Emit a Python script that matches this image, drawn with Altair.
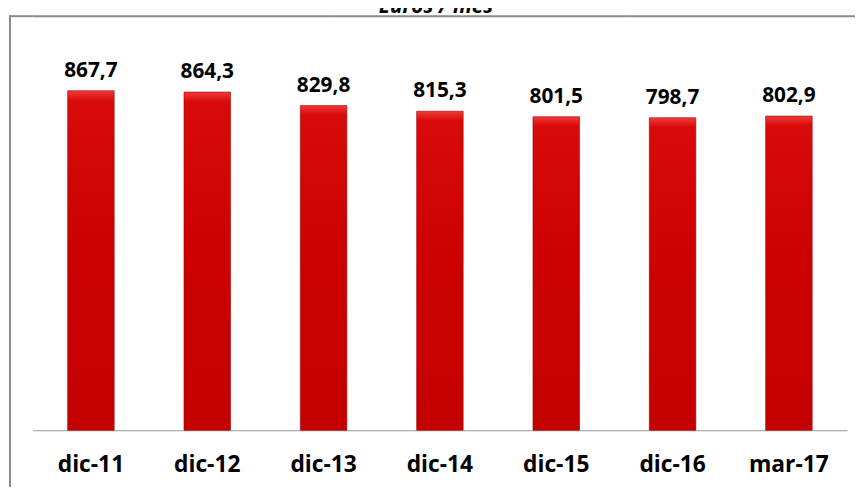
import altair as alt
import pandas as pd

categories = ["dic-11", "dic-12", "dic-13", "dic-14", "dic-15", "dic-16", "mar-17"]
values = [867.7, 864.3, 829.8, 815.3, 801.5, 798.7, 802.9]
title_text = "Euros / mes"

labels = [f"{v:.1f}".replace(".", ",") for v in values]
df = pd.DataFrame({"cat": categories, "val": values, "lab": labels})

FONT = "Open Sans"

x_enc = alt.X("cat:N", sort=categories,
              scale=alt.Scale(paddingInner=0.6, paddingOuter=0.3),
              axis=alt.Axis(title=None, labelAngle=0, ticks=False,
                            labelFontSize=23, labelFontWeight="bold",
                            labelFont=FONT, labelColor="#000000",
                            labelPadding=24, domainColor="#9a9a9a",
                            domainWidth=1.2))
y_enc = alt.Y("val:Q", scale=alt.Scale(domain=[0, 1000], nice=False), axis=None)

gradient = alt.Gradient(
    gradient="linear", x1=0, y1=0, x2=0, y2=1,
    stops=[alt.GradientStop(color="#f03a3a", offset=0),
           alt.GradientStop(color="#d80a0a", offset=0.03),
           alt.GradientStop(color="#cc0000", offset=0.5),
           alt.GradientStop(color="#c40000", offset=1)])

base = alt.Chart(df)

bars = base.mark_bar(fill=gradient, stroke="#a00000", strokeWidth=0.6).encode(
    x=x_enc, y=y_enc)

texts = base.mark_text(font=FONT, fontSize=21, fontWeight="bold",
                       color="#000000", dy=-14, baseline="alphabetic").encode(
    x=alt.X("cat:N", sort=categories), y=alt.Y("val:Q"), text="lab:N")

one = alt.Data(values=[{"k": 1}])

GRAY = "#8a8a8a"
segments = []
for a, b in [(-24, 0), (0, 300), (300, 600), (600, 830)]:
    segments.append(alt.Chart(one).mark_rect(color=GRAY).encode(
        x=alt.value(a), x2=alt.value(b), y=alt.value(-24), y2=alt.value(-22)))
left_line = alt.Chart(one).mark_rect(color=GRAY).encode(
    x=alt.value(-24), x2=alt.value(-22), y=alt.value(-24), y2=alt.value(470))

title = alt.Chart(one).mark_text(font=FONT, fontSize=21, fontWeight="bold",
                                 fontStyle="italic", color="#000000",
                                 baseline="alphabetic", align="center").encode(
    x=alt.value(407), y=alt.value(-26), text=alt.value(title_text))

chart = alt.layer(*segments, left_line, bars, texts, title).properties(
    width=822, height=395,
    autosize=alt.AutoSizeParams(type="none"),
    padding={"left": 25, "top": 29, "right": 8, "bottom": 55},
).configure_view(stroke=None)

chart.save("out.html", embed_options={"renderer": "svg", "actions": False})
